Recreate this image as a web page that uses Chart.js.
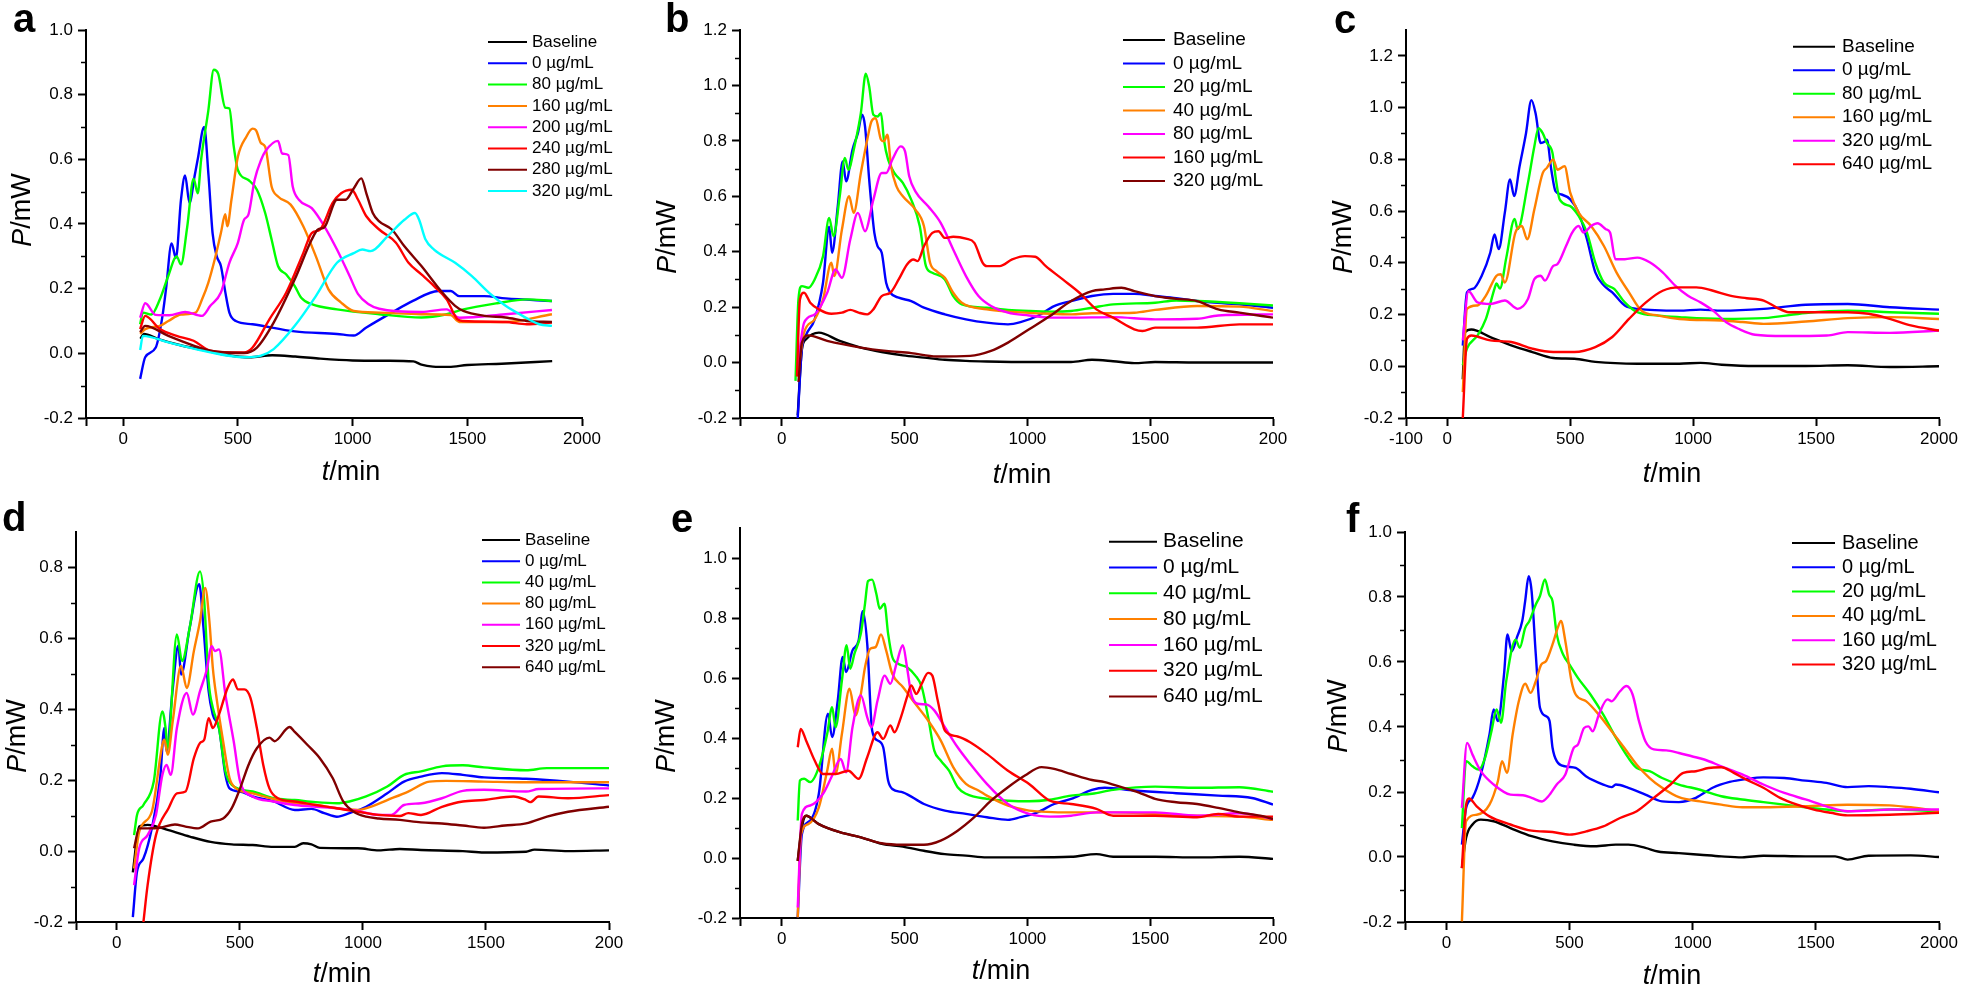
<!DOCTYPE html>
<html>
<head>
<meta charset="utf-8">
<title>Heat flow curves</title>
<script src="https://cdn.jsdelivr.net/npm/chart.js@4.4.0/dist/chart.umd.min.js"></script>
<style>
  body { margin: 0; background: #fff; width: 1961px; height: 989px; position: relative; overflow: hidden; }
  canvas { position: absolute; }
</style>
</head>
<body>
<canvas id="pa" width="650" height="494" style="left:0;top:0"></canvas>
<canvas id="pb" width="650" height="494" style="left:650px;top:0"></canvas>
<canvas id="pc" width="661" height="494" style="left:1300px;top:0"></canvas>
<canvas id="pd" width="650" height="495" style="left:0;top:494px"></canvas>
<canvas id="pe" width="650" height="495" style="left:650px;top:494px"></canvas>
<canvas id="pf" width="661" height="495" style="left:1300px;top:494px"></canvas>
<script>
// ---- data: [t/min, P/mW] ----

// panel a
const a_base = [[75,0.045],[90,0.06],[150,0.045],[250,0.025],[350,0.01],[450,-0.005],[550,-0.012],[650,-0.006],[750,-0.01],[850,-0.016],[1000,-0.022],[1150,-0.023],[1265,-0.025],[1300,-0.035],[1350,-0.041],[1420,-0.042],[1500,-0.036],[1650,-0.032],[1870,-0.024]];
const a_0 = [[74,-0.079],[96,-0.012],[142,0.018],[169,0.105],[187,0.2],[211,0.34],[230,0.295],[252,0.475],[270,0.55],[289,0.465],[311,0.547],[325,0.6],[353,0.7],[372,0.55],[390,0.37],[408,0.3],[426,0.27],[445,0.19],[463,0.126],[491,0.1],[564,0.09],[748,0.068],[932,0.06],[1005,0.055],[1060,0.08],[1171,0.126],[1263,0.162],[1373,0.193],[1428,0.193],[1465,0.177],[1575,0.177],[1667,0.17],[1869,0.162]];
const a_80 = [[74,0.09],[86,0.126],[123,0.12],[160,0.167],[197,0.24],[233,0.3],[252,0.275],[279,0.39],[307,0.54],[325,0.495],[340,0.6],[371,0.75],[395,0.877],[414,0.865],[445,0.76],[463,0.757],[482,0.64],[500,0.567],[546,0.536],[583,0.506],[619,0.434],[647,0.352],[675,0.27],[711,0.244],[748,0.208],[776,0.172],[822,0.152],[932,0.136],[1116,0.121],[1300,0.111],[1410,0.121],[1483,0.136],[1630,0.155],[1759,0.167],[1869,0.162]];
const a_160 = [[74,0.06],[96,0.075],[160,0.085],[197,0.1],[252,0.12],[316,0.126],[344,0.167],[371,0.218],[399,0.29],[426,0.372],[445,0.43],[454,0.393],[472,0.475],[500,0.608],[537,0.67],[564,0.695],[579,0.69],[601,0.65],[619,0.639],[647,0.516],[675,0.485],[730,0.46],[785,0.393],[840,0.3],[895,0.198],[950,0.157],[1005,0.131],[1116,0.126],[1300,0.121],[1428,0.118],[1465,0.097],[1667,0.097],[1869,0.121]];
const a_200 = [[74,0.11],[96,0.155],[142,0.119],[200,0.118],[270,0.128],[344,0.116],[380,0.147],[426,0.188],[463,0.28],[500,0.342],[527,0.413],[546,0.429],[573,0.536],[601,0.598],[620,0.625],[675,0.657],[693,0.618],[720,0.613],[739,0.516],[766,0.475],[822,0.449],[877,0.393],[932,0.321],[987,0.239],[1024,0.183],[1070,0.152],[1116,0.138],[1300,0.128],[1410,0.136],[1465,0.11],[1667,0.121],[1869,0.134]];
const a_240 = [[74,0.075],[96,0.116],[160,0.075],[233,0.054],[307,0.039],[380,0.008],[472,0.003],[527,0.003],[564,0.018],[638,0.106],[711,0.188],[785,0.31],[822,0.372],[858,0.383],[913,0.465],[950,0.495],[996,0.506],[1024,0.475],[1060,0.424],[1116,0.383],[1189,0.342],[1244,0.28],[1300,0.244],[1355,0.208],[1410,0.167],[1456,0.106],[1483,0.1],[1667,0.097],[1759,0.09],[1869,0.095]];
const a_280 = [[74,0.065],[96,0.085],[197,0.054],[307,0.024],[380,0.008],[527,0.001],[583,0.018],[656,0.095],[748,0.229],[822,0.352],[849,0.383],[877,0.39],[932,0.475],[969,0.475],[1005,0.51],[1038,0.541],[1060,0.495],[1088,0.434],[1116,0.408],[1171,0.383],[1226,0.331],[1300,0.27],[1391,0.188],[1447,0.147],[1483,0.131],[1575,0.116],[1667,0.111],[1759,0.1],[1869,0.097]];
const a_320 = [[74,0.01],[86,0.054],[197,0.034],[380,0.003],[527,-0.012],[601,-0.007],[656,0.013],[748,0.085],[840,0.177],[932,0.28],[1005,0.31],[1042,0.321],[1079,0.316],[1152,0.362],[1226,0.413],[1272,0.434],[1290,0.413],[1318,0.352],[1355,0.321],[1447,0.28],[1520,0.239],[1594,0.188],[1667,0.147],[1741,0.116],[1814,0.09],[1869,0.085]];
const aLabels = ['Baseline', '0 µg/mL', '80 µg/mL', '160 µg/mL', '200 µg/mL', '240 µg/mL', '280 µg/mL', '320 µg/mL'];

// panel b
const b_base = [[65,-0.19],[82,0.048],[99,0.084],[151,0.108],[236,0.078],[322,0.054],[407,0.038],[493,0.026],[579,0.018],[664,0.01],[750,0.006],[835,0.004],[1007,0.002],[1178,0.002],[1263,0.01],[1349,0.005],[1435,-0.002],[1520,0.002],[1691,0],[1863,0],[2000,0]];
const b_0 = [[65,-0.2],[82,0.05],[99,0.1],[134,0.156],[168,0.288],[193,0.49],[205,0.396],[228,0.564],[248,0.726],[262,0.654],[288,0.768],[310,0.828],[327,0.894],[339,0.852],[356,0.66],[377,0.468],[390,0.42],[407,0.396],[425,0.288],[442,0.252],[476,0.234],[527,0.222],[579,0.198],[664,0.174],[750,0.156],[835,0.144],[921,0.138],[972,0.146],[1041,0.168],[1109,0.204],[1178,0.222],[1263,0.24],[1349,0.248],[1435,0.248],[1520,0.24],[1606,0.232],[1691,0.222],[1863,0.21],[2000,0.198]];
const b_20 = [[56,-0.066],[68,0.228],[82,0.276],[108,0.27],[134,0.3],[168,0.384],[193,0.522],[211,0.456],[236,0.6],[257,0.738],[271,0.696],[296,0.78],[322,0.9],[342,1.042],[356,0.996],[373,0.894],[390,0.888],[404,0.9],[416,0.804],[433,0.732],[459,0.684],[493,0.648],[527,0.588],[562,0.492],[587,0.348],[613,0.324],[664,0.3],[698,0.24],[733,0.21],[835,0.198],[921,0.19],[1007,0.186],[1092,0.184],[1178,0.186],[1263,0.198],[1349,0.21],[1520,0.216],[1606,0.224],[1691,0.222],[1863,0.214],[2000,0.206]];
const b_40 = [[65,-0.05],[91,0.108],[134,0.156],[168,0.228],[202,0.36],[214,0.312],[245,0.48],[274,0.6],[293,0.54],[322,0.684],[348,0.804],[365,0.87],[382,0.882],[404,0.804],[416,0.798],[430,0.822],[445,0.708],[467,0.636],[493,0.6],[544,0.552],[579,0.492],[604,0.36],[630,0.33],[664,0.306],[698,0.252],[733,0.216],[835,0.192],[921,0.184],[1092,0.176],[1178,0.174],[1263,0.178],[1435,0.18],[1520,0.19],[1691,0.204],[1863,0.202],[2000,0.186]];
const b_80 = [[65,-0.012],[91,0.144],[134,0.174],[185,0.252],[219,0.336],[245,0.306],[279,0.444],[310,0.54],[339,0.474],[373,0.588],[407,0.684],[425,0.684],[450,0.732],[484,0.78],[502,0.762],[519,0.672],[544,0.618],[596,0.564],[647,0.504],[698,0.408],[750,0.312],[801,0.24],[852,0.204],[921,0.18],[1007,0.17],[1092,0.162],[1178,0.162],[1349,0.164],[1520,0.156],[1691,0.158],[1777,0.17],[2000,0.174]];
const b_160 = [[62,-0.05],[74,0.228],[91,0.252],[116,0.216],[151,0.192],[202,0.176],[245,0.18],[279,0.19],[313,0.18],[348,0.174],[373,0.192],[407,0.24],[442,0.252],[476,0.3],[510,0.354],[536,0.372],[553,0.366],[579,0.42],[613,0.468],[638,0.474],[664,0.45],[698,0.454],[750,0.447],[784,0.432],[818,0.36],[835,0.348],[887,0.348],[938,0.372],[990,0.384],[1032,0.382],[1075,0.348],[1144,0.3],[1212,0.252],[1281,0.192],[1349,0.162],[1435,0.12],[1469,0.114],[1520,0.126],[1691,0.126],[1863,0.138],[2000,0.138]];
const b_320 = [[68,-0.07],[82,0.072],[108,0.098],[185,0.078],[322,0.054],[425,0.042],[527,0.034],[630,0.022],[767,0.024],[852,0.042],[921,0.072],[1007,0.12],[1092,0.168],[1178,0.222],[1263,0.258],[1315,0.264],[1383,0.27],[1435,0.258],[1520,0.24],[1606,0.23],[1691,0.222],[1777,0.192],[1863,0.18],[2000,0.162]];
const bLabels = ['Baseline', '0 µg/mL', '20 µg/mL', '40 µg/mL', '80 µg/mL', '160 µg/mL', '320 µg/mL'];

// panel c
const c_base = [[63,-0.05],[72,0.132],[98,0.142],[175,0.113],[260,0.081],[346,0.055],[431,0.032],[517,0.029],[602,0.017],[773,0.01],[944,0.01],[1030,0.013],[1116,0.006],[1252,0.001],[1458,0.001],[1629,0.004],[1800,-0.003],[2000,0]];
const c_0 = [[63,0.08],[80,0.286],[106,0.3],[140,0.35],[175,0.44],[192,0.51],[209,0.453],[234,0.594],[255,0.722],[272,0.658],[294,0.773],[320,0.9],[342,1.029],[359,0.978],[380,0.863],[397,0.869],[405,0.876],[423,0.76],[440,0.677],[465,0.664],[500,0.645],[534,0.594],[568,0.491],[602,0.363],[637,0.312],[671,0.286],[722,0.235],[773,0.222],[944,0.215],[1030,0.219],[1116,0.215],[1287,0.222],[1458,0.238],[1629,0.241],[1800,0.228],[2000,0.219]];
const c_80 = [[63,0.004],[80,0.068],[123,0.119],[157,0.183],[192,0.3],[200,0.32],[214,0.3],[240,0.42],[274,0.57],[286,0.53],[328,0.709],[354,0.85],[371,0.92],[388,0.901],[405,0.863],[428,0.824],[440,0.735],[457,0.645],[500,0.619],[534,0.581],[568,0.517],[602,0.401],[637,0.324],[679,0.299],[722,0.247],[773,0.209],[859,0.196],[944,0.19],[1116,0.183],[1287,0.186],[1458,0.206],[1629,0.215],[1800,0.209],[2000,0.203]];
const c_160 = [[63,-0.1],[80,0.222],[123,0.235],[157,0.273],[200,0.35],[217,0.356],[234,0.324],[277,0.517],[303,0.542],[325,0.491],[354,0.606],[388,0.747],[405,0.767],[431,0.799],[448,0.76],[477,0.773],[500,0.671],[534,0.594],[585,0.542],[637,0.465],[688,0.363],[739,0.286],[790,0.215],[859,0.196],[944,0.183],[1116,0.177],[1201,0.171],[1287,0.164],[1458,0.173],[1629,0.186],[1800,0.19],[2000,0.183]];
const c_320 = [[63,0.1],[86,0.29],[123,0.247],[175,0.241],[234,0.254],[286,0.222],[328,0.26],[354,0.337],[380,0.35],[397,0.331],[431,0.388],[448,0.395],[483,0.465],[508,0.517],[534,0.542],[554,0.517],[585,0.542],[611,0.553],[645,0.53],[662,0.517],[684,0.414],[722,0.414],[773,0.42],[825,0.401],[876,0.363],[927,0.312],[979,0.273],[1030,0.247],[1081,0.215],[1133,0.171],[1184,0.145],[1252,0.122],[1372,0.117],[1543,0.119],[1629,0.132],[1800,0.129],[2000,0.138]];
const c_640 = [[63,-0.2],[80,0.106],[98,0.119],[175,0.1],[260,0.094],[346,0.068],[431,0.055],[517,0.055],[602,0.074],[671,0.113],[739,0.183],[808,0.247],[876,0.292],[944,0.305],[1013,0.305],[1081,0.292],[1150,0.273],[1218,0.263],[1287,0.254],[1338,0.228],[1389,0.209],[1543,0.209],[1629,0.209],[1714,0.203],[1800,0.183],[1885,0.158],[2000,0.138]];
const cLabels = ['Baseline', '0 µg/mL', '80 µg/mL', '160 µg/mL', '320 µg/mL', '640 µg/mL'];

// panel d
const d_base = [[65,-0.06],[91,0.069],[125,0.074],[210,0.059],[296,0.041],[381,0.026],[467,0.019],[552,0.017],[637,0.012],[723,0.012],[757,0.022],[791,0.019],[825,0.009],[979,0.008],[1065,0.002],[1150,0.006],[1236,0.003],[1406,0],[1492,-0.004],[1663,-0.002],[1697,0.004],[1834,0],[2000,0.002]];
const d_0 = [[65,-0.186],[82,-0.058],[108,-0.021],[142,0.064],[176,0.206],[193,0.347],[202,0.281],[226,0.45],[250,0.58],[261,0.498],[296,0.63],[335,0.753],[352,0.63],[373,0.451],[390,0.385],[415,0.347],[441,0.215],[458,0.177],[501,0.168],[552,0.154],[637,0.14],[723,0.116],[791,0.119],[843,0.107],[894,0.097],[945,0.107],[1013,0.125],[1099,0.163],[1167,0.196],[1236,0.21],[1321,0.22],[1406,0.215],[1492,0.208],[1663,0.204],[1834,0.196],[2000,0.185]];
const d_40 = [[70,0.045],[82,0.102],[108,0.13],[150,0.196],[185,0.394],[198,0.347],[206,0.29],[244,0.611],[265,0.536],[296,0.63],[338,0.789],[355,0.706],[373,0.479],[390,0.404],[415,0.347],[441,0.225],[467,0.187],[552,0.168],[637,0.149],[723,0.144],[808,0.138],[894,0.135],[945,0.14],[1013,0.154],[1099,0.182],[1167,0.215],[1236,0.225],[1321,0.239],[1406,0.242],[1492,0.236],[1663,0.228],[1748,0.234],[2000,0.234]];
const d_80 = [[70,-0.049],[91,0.055],[142,0.111],[185,0.3],[193,0.314],[207,0.272],[227,0.366],[261,0.522],[284,0.46],[313,0.564],[338,0.649],[359,0.742],[376,0.649],[390,0.517],[407,0.423],[432,0.309],[458,0.206],[484,0.177],[552,0.163],[637,0.147],[723,0.135],[808,0.13],[894,0.121],[979,0.116],[1031,0.125],[1099,0.144],[1184,0.168],[1270,0.196],[1338,0.198],[1492,0.196],[1663,0.194],[2000,0.194]];
const d_160 = [[70,-0.096],[91,0.008],[125,0.045],[159,0.102],[185,0.215],[202,0.243],[219,0.215],[244,0.347],[284,0.446],[309,0.385],[338,0.451],[364,0.508],[386,0.578],[398,0.564],[415,0.569],[441,0.442],[475,0.309],[501,0.196],[552,0.154],[637,0.14],[723,0.13],[808,0.125],[894,0.121],[979,0.113],[1065,0.102],[1116,0.102],[1167,0.13],[1236,0.135],[1321,0.149],[1406,0.17],[1492,0.173],[1663,0.168],[1714,0.175],[2000,0.177]];
const d_320 = [[108,-0.2],[125,-0.096],[159,0.045],[210,0.121],[244,0.163],[279,0.168],[313,0.262],[338,0.305],[355,0.314],[373,0.375],[390,0.347],[415,0.385],[450,0.46],[472,0.484],[492,0.456],[518,0.456],[543,0.432],[569,0.347],[595,0.243],[620,0.177],[655,0.149],[723,0.14],[808,0.13],[894,0.121],[979,0.111],[1065,0.102],[1150,0.099],[1184,0.107],[1236,0.102],[1321,0.125],[1406,0.14],[1492,0.144],[1612,0.154],[1663,0.144],[1680,0.138],[1714,0.154],[1834,0.149],[2000,0.158]];
const d_640 = [[70,0.008],[91,0.064],[125,0.064],[176,0.066],[236,0.075],[279,0.069],[330,0.064],[381,0.083],[432,0.092],[467,0.121],[501,0.177],[535,0.243],[569,0.29],[620,0.32],[641,0.31],[702,0.35],[723,0.336],[774,0.3],[825,0.262],[877,0.206],[920,0.14],[962,0.111],[1013,0.097],[1065,0.092],[1150,0.088],[1236,0.081],[1321,0.078],[1406,0.072],[1492,0.066],[1577,0.072],[1663,0.078],[1748,0.097],[1834,0.111],[2000,0.125]];
const dLabels = ['Baseline', '0 µg/mL', '40 µg/mL', '80 µg/mL', '160 µg/mL', '320 µg/mL', '640 µg/mL'];

// panel e
const e_base = [[65,-0.01],[82,0.102],[99,0.141],[151,0.113],[236,0.086],[322,0.069],[407,0.047],[493,0.038],[579,0.024],[664,0.013],[750,0.008],[835,0.002],[1007,0.002],[1178,0.004],[1281,0.013],[1349,0.004],[1520,0.004],[1691,0.002],[1863,0.004],[2000,-0.003]];
const e_0 = [[65,-0.198],[82,0.08],[116,0.125],[151,0.214],[188,0.481],[205,0.403],[228,0.525],[248,0.67],[262,0.62],[288,0.692],[313,0.725],[330,0.823],[348,0.714],[368,0.425],[390,0.392],[413,0.369],[433,0.258],[450,0.23],[493,0.219],[579,0.18],[664,0.158],[750,0.147],[835,0.136],[921,0.127],[972,0.136],[1041,0.152],[1109,0.18],[1178,0.197],[1263,0.227],[1315,0.234],[1435,0.225],[1606,0.216],[1777,0.208],[1914,0.2],[2000,0.178]];
const e_40 = [[65,0.125],[74,0.258],[91,0.264],[116,0.253],[151,0.303],[185,0.414],[205,0.503],[219,0.436],[245,0.592],[264,0.709],[279,0.631],[296,0.681],[322,0.748],[339,0.848],[351,0.923],[368,0.928],[385,0.881],[399,0.831],[418,0.848],[433,0.748],[450,0.67],[476,0.647],[510,0.636],[544,0.608],[570,0.57],[596,0.469],[621,0.358],[647,0.325],[681,0.291],[716,0.236],[750,0.214],[835,0.197],[921,0.191],[1007,0.189],[1092,0.194],[1178,0.208],[1263,0.214],[1349,0.227],[1520,0.238],[1691,0.234],[1863,0.236],[2000,0.221]];
const e_80 = [[65,-0.198],[79,0.08],[108,0.113],[151,0.169],[185,0.291],[205,0.364],[219,0.28],[245,0.414],[276,0.564],[300,0.475],[322,0.547],[339,0.636],[360,0.697],[382,0.703],[404,0.745],[425,0.692],[450,0.614],[493,0.57],[544,0.514],[596,0.458],[647,0.392],[698,0.303],[750,0.247],[801,0.225],[835,0.208],[921,0.175],[1007,0.158],[1178,0.152],[1349,0.152],[1520,0.147],[1691,0.141],[1863,0.138],[2000,0.127]];
const e_160 = [[65,-0.165],[82,0.147],[116,0.175],[168,0.214],[202,0.269],[240,0.33],[262,0.286],[288,0.436],[322,0.542],[348,0.469],[365,0.436],[390,0.525],[419,0.608],[442,0.581],[467,0.647],[493,0.709],[510,0.636],[527,0.547],[553,0.514],[587,0.512],[621,0.492],[664,0.436],[716,0.369],[767,0.314],[835,0.247],[921,0.18],[1007,0.147],[1092,0.138],[1178,0.141],[1281,0.152],[1349,0.152],[1520,0.152],[1691,0.141],[1863,0.149],[2000,0.13]];
const e_320 = [[65,0.369],[77,0.43],[99,0.392],[134,0.325],[168,0.28],[219,0.28],[271,0.291],[313,0.264],[348,0.336],[390,0.419],[413,0.397],[442,0.442],[459,0.419],[485,0.469],[510,0.536],[527,0.575],[548,0.547],[570,0.581],[596,0.617],[613,0.608],[635,0.525],[664,0.425],[716,0.405],[767,0.386],[835,0.347],[921,0.291],[1007,0.247],[1092,0.191],[1178,0.18],[1281,0.164],[1349,0.141],[1520,0.141],[1691,0.136],[1777,0.147],[1863,0.138],[2000,0.138]];
const e_640 = [[65,-0.01],[82,0.113],[99,0.141],[151,0.113],[236,0.086],[322,0.069],[407,0.049],[493,0.044],[579,0.044],[647,0.058],[716,0.091],[784,0.136],[852,0.191],[921,0.236],[990,0.275],[1058,0.303],[1109,0.297],[1178,0.28],[1263,0.26],[1315,0.253],[1383,0.236],[1452,0.219],[1520,0.197],[1606,0.186],[1691,0.18],[1777,0.167],[1863,0.152],[1948,0.141],[2000,0.13]];
const eLabels = ['Baseline', '0 µg/mL', '40 µg/mL', '80 µg/mL', '160 µg/mL', '320 µg/mL', '640 µg/mL'];

// panel f
const f_base = [[63,-0.034],[80,0.059],[106,0.1],[140,0.115],[192,0.11],[260,0.089],[346,0.064],[431,0.048],[517,0.038],[602,0.033],[688,0.038],[739,0.038],[808,0.028],[859,0.017],[944,0.012],[1030,0.007],[1116,0.002],[1201,-0.001],[1287,0.004],[1458,0.002],[1578,0.002],[1629,-0.008],[1714,0.004],[1885,0.005],[2000,0]];
const f_0 = [[63,0.038],[80,0.151],[106,0.182],[140,0.254],[175,0.377],[192,0.454],[209,0.418],[234,0.562],[248,0.685],[265,0.633],[286,0.675],[308,0.726],[320,0.788],[334,0.864],[346,0.818],[363,0.623],[380,0.459],[405,0.433],[419,0.418],[431,0.336],[448,0.295],[483,0.279],[525,0.274],[568,0.248],[637,0.223],[671,0.215],[688,0.223],[739,0.213],[808,0.192],[876,0.171],[944,0.169],[1013,0.182],[1081,0.213],[1150,0.231],[1218,0.24],[1287,0.245],[1372,0.243],[1458,0.235],[1543,0.228],[1629,0.215],[1714,0.218],[1800,0.215],[1885,0.21],[2000,0.199]];
const f_20 = [[63,0.089],[80,0.295],[106,0.279],[132,0.269],[157,0.305],[183,0.387],[204,0.454],[222,0.413],[243,0.541],[281,0.669],[298,0.644],[320,0.705],[337,0.726],[363,0.777],[380,0.803],[400,0.854],[417,0.808],[431,0.787],[448,0.685],[474,0.623],[500,0.592],[534,0.551],[585,0.5],[637,0.438],[688,0.367],[739,0.305],[773,0.274],[825,0.264],[876,0.243],[944,0.223],[1030,0.207],[1116,0.187],[1201,0.177],[1287,0.169],[1372,0.161],[1458,0.153],[1543,0.146],[1629,0.141],[1800,0.146],[2000,0.141]];
const f_40 = [[63,-0.198],[80,0.11],[123,0.13],[175,0.161],[209,0.233],[226,0.295],[246,0.259],[269,0.377],[294,0.479],[320,0.533],[342,0.505],[363,0.541],[385,0.592],[405,0.603],[431,0.654],[452,0.705],[465,0.726],[483,0.664],[508,0.541],[525,0.5],[568,0.479],[619,0.438],[671,0.387],[722,0.336],[773,0.284],[825,0.243],[876,0.213],[944,0.184],[1030,0.171],[1116,0.161],[1201,0.153],[1287,0.153],[1458,0.156],[1629,0.161],[1800,0.159],[1885,0.153],[2000,0.141]];
const f_160 = [[63,0.151],[84,0.351],[106,0.315],[140,0.264],[192,0.223],[260,0.192],[311,0.19],[346,0.182],[388,0.171],[414,0.187],[448,0.223],[483,0.254],[517,0.336],[534,0.346],[559,0.397],[577,0.402],[594,0.387],[619,0.438],[654,0.485],[671,0.479],[705,0.51],[731,0.526],[756,0.5],[782,0.418],[808,0.356],[842,0.331],[893,0.328],[944,0.32],[996,0.31],[1047,0.3],[1116,0.279],[1201,0.254],[1287,0.223],[1372,0.197],[1458,0.177],[1543,0.156],[1629,0.141],[1714,0.143],[1800,0.146],[2000,0.146]];
const f_320 = [[63,-0.034],[80,0.161],[92,0.18],[123,0.156],[175,0.125],[260,0.1],[346,0.081],[431,0.077],[500,0.069],[568,0.079],[637,0.094],[705,0.12],[773,0.141],[842,0.182],[910,0.223],[962,0.259],[1013,0.264],[1064,0.274],[1116,0.276],[1167,0.259],[1218,0.238],[1287,0.213],[1355,0.182],[1424,0.161],[1492,0.146],[1560,0.136],[1629,0.128],[1800,0.13],[2000,0.136]];
const fLabels = ['Baseline', '0 µg/mL', '20 µg/mL', '40 µg/mL', '160 µg/mL', '320 µg/mL'];

// axis ticks
const xTickVals = [0, 500, 1000, 1500, 2000];
const xTickText = ['0', '500', '1000', '1500', '2000'];
const xTickTextCut = ['0', '500', '1000', '1500', '200'];   // last label is cut off in b, d, e
const yMaxes = { a: 1.0, b: 1.2, c: 1.3, d: 0.9, e: 1.1, f: 1.0 };

// ---- styles ----
const FONT = '"Liberation Sans", Arial, sans-serif';
const C = { black: '#000000', blue: '#0000FF', green: '#00FF00', orange: '#FF8000', magenta: '#FF00FF', red: '#FF0000', maroon: '#800000', cyan: '#00FFFF' };

Chart.defaults.font.family = FONT;
Chart.defaults.color = '#000';

function drawMixed(ctx, parts, cx, cy, vertical, size) {
  ctx.save();
  ctx.translate(cx, cy);
  if (vertical) ctx.rotate(-Math.PI / 2);
  const fonts = parts.map(p => (p[1] ? 'italic ' : '') + size + 'px ' + FONT);
  let total = 0;
  const widths = parts.map((p, i) => { ctx.font = fonts[i]; const w = ctx.measureText(p[0]).width; total += w; return w; });
  let x = -total / 2;
  ctx.textAlign = 'left';
  ctx.textBaseline = vertical ? 'middle' : 'alphabetic';
  parts.forEach((p, i) => { ctx.font = fonts[i]; ctx.fillText(p[0], x, 0); x += widths[i]; });
  ctx.restore();
}

function decor(p) {
  return {
    id: 'decor',
    afterDraw(chart) {
      const ctx = chart.ctx, ys = chart.scales.y, area = chart.chartArea;
      ctx.save();
      // minor y ticks
      ctx.strokeStyle = '#000';
      ctx.lineWidth = 1.5;
      for (let v = -0.1; v < p.yMax - 0.05; v += 0.2) {
        const py = Math.round(ys.getPixelForValue(v)) + 0.5;
        ctx.beginPath(); ctx.moveTo(area.left - 5, py); ctx.lineTo(area.left, py); ctx.stroke();
      }
      // panel letter
      ctx.fillStyle = '#000';
      ctx.font = 'bold 40px ' + FONT;
      ctx.textAlign = 'left';
      ctx.textBaseline = 'alphabetic';
      ctx.fillText(p.letter, p.letterAt[0], p.letterAt[1]);
      // axis titles
      drawMixed(ctx, [['P', true], ['/mW', false]], p.yTitleAt[0], p.yTitleAt[1], true, 27);
      drawMixed(ctx, [['t', true], ['/min', false]], p.xTitleAt[0], p.xTitleAt[1], false, 27);
      // legend
      const L = p.legend;
      ctx.font = L.size + 'px ' + FONT;
      ctx.textBaseline = 'middle';
      chart.data.datasets.forEach((ds, i) => {
        const y = L.y0 + i * L.dy;
        ctx.strokeStyle = ds.borderColor;
        ctx.lineWidth = 2;
        ctx.beginPath(); ctx.moveTo(L.x0, y); ctx.lineTo(L.x1, y); ctx.stroke();
        ctx.fillStyle = '#000';
        ctx.fillText(ds.label, L.tx, y);
      });
      ctx.restore();
    }
  };
}

function panel(id, p) {
  const ds = p.series.map((s, i) => ({
    label: p.labels[i],
    data: s.map(([x, y]) => ({ x, y })),
    borderColor: p.colors[i],
    borderWidth: 2.4,
    pointRadius: 0,
    cubicInterpolationMode: 'monotone',
    order: p.series.length - i
  }));
  const xTicks = [p.xMin].concat(xTickVals);
  const xText = [p.xMinText].concat(p.xText);
  const yTicks = [];
  for (let v = -0.2; v <= p.yMax + 1e-9; v += 0.2) yTicks.push(Math.round(v * 10) / 10);
  const axisGrid = { drawOnChartArea: false, tickLength: 8, tickWidth: 2, tickColor: '#000' };
  new Chart(document.getElementById(id), {
    type: 'line',
    data: { datasets: ds },
    options: {
      responsive: false,
      animation: false,
      layout: { padding: { left: 0, top: p.area.top, right: p.area.right, bottom: 0 } },
      plugins: { legend: { display: false }, tooltip: { enabled: false } },
      scales: {
        x: {
          type: 'linear', min: p.xMin, max: 2000,
          afterFit: s => { s.height = p.area.xh; },
          afterBuildTicks: s => { s.ticks = xTicks.map(v => ({ value: v })); },
          ticks: { autoSkip: false, maxRotation: 0, padding: 3, font: { size: 17 }, callback: (v, i) => xText[i] },
          grid: axisGrid,
          border: { color: '#000', width: 2 }
        },
        y: {
          min: -0.2, max: p.yMax,
          afterFit: s => { s.width = p.area.left; },
          afterBuildTicks: s => { s.ticks = yTicks.map(v => ({ value: v })); },
          ticks: { padding: 5, font: { size: 17 }, callback: v => v.toFixed(1) },
          grid: axisGrid,
          border: { color: '#000', width: 2 }
        }
      }
    },
    plugins: [decor(p)]
  });
}

panel('pa', {
  series: [a_base, a_0, a_80, a_160, a_200, a_240, a_280, a_320], labels: aLabels,
  colors: [C.black, C.blue, C.green, C.orange, C.magenta, C.red, C.maroon, C.cyan],
  xMin: -162, xMinText: '', xText: xTickText, yMax: yMaxes.a,
  area: { left: 86, top: 30, right: 68, xh: 76 },
  letter: 'a', letterAt: [13, 32], yTitleAt: [23, 210], xTitleAt: [351, 480],
  legend: { x0: 488, x1: 527, tx: 532, y0: 42, dy: 21.3, size: 17 }
});
panel('pb', {
  series: [b_base, b_0, b_20, b_40, b_80, b_160, b_320], labels: bLabels,
  colors: [C.black, C.blue, C.green, C.orange, C.magenta, C.red, C.maroon],
  xMin: -170, xMinText: '', xText: xTickTextCut, yMax: yMaxes.b,
  area: { left: 90, top: 30, right: 27, xh: 76 },
  letter: 'b', letterAt: [15, 32], yTitleAt: [18, 237], xTitleAt: [372, 483],
  legend: { x0: 473, x1: 515, tx: 523, y0: 40, dy: 23.5, size: 19 }
});
panel('pc', {
  series: [c_base, c_0, c_80, c_160, c_320, c_640], labels: cLabels,
  colors: [C.black, C.blue, C.green, C.orange, C.magenta, C.red],
  xMin: -168, xMinText: '-100', xText: xTickText, yMax: yMaxes.c,
  area: { left: 106, top: 30, right: 22, xh: 76 },
  letter: 'c', letterAt: [34, 33], yTitleAt: [44, 237], xTitleAt: [372, 482],
  legend: { x0: 493, x1: 535, tx: 542, y0: 46.7, dy: 23.5, size: 19 }
});
panel('pd', {
  series: [d_base, d_0, d_40, d_80, d_160, d_320, d_640], labels: dLabels,
  colors: [C.black, C.blue, C.green, C.orange, C.magenta, C.red, C.maroon],
  xMin: -166, xMinText: '', xText: xTickTextCut, yMax: yMaxes.d,
  area: { left: 76, top: 38, right: 41, xh: 67 },
  letter: 'd', letterAt: [2, 37], yTitleAt: [18, 242], xTitleAt: [342, 488],
  legend: { x0: 482, x1: 520, tx: 525, y0: 46, dy: 21.2, size: 17 }
});
panel('pe', {
  series: [e_base, e_0, e_40, e_80, e_160, e_320, e_640], labels: eLabels,
  colors: [C.black, C.blue, C.green, C.orange, C.magenta, C.red, C.maroon],
  xMin: -170, xMinText: '', xText: xTickTextCut, yMax: yMaxes.e,
  area: { left: 90, top: 34, right: 27, xh: 71 },
  letter: 'e', letterAt: [21, 38], yTitleAt: [17, 242], xTitleAt: [351, 485],
  legend: { x0: 459, x1: 507, tx: 513, y0: 47.7, dy: 25.8, size: 21 }
});
panel('pf', {
  series: [f_base, f_0, f_20, f_40, f_160, f_320], labels: fLabels,
  colors: [C.black, C.blue, C.green, C.orange, C.magenta, C.red],
  xMin: -168, xMinText: '', xText: xTickText, yMax: yMaxes.f,
  area: { left: 105, top: 38, right: 22, xh: 67 },
  letter: 'f', letterAt: [46, 38], yTitleAt: [39, 222], xTitleAt: [372, 490],
  legend: { x0: 492, x1: 535, tx: 542, y0: 49, dy: 24.3, size: 20 }
});
</script>
</body>
</html>
